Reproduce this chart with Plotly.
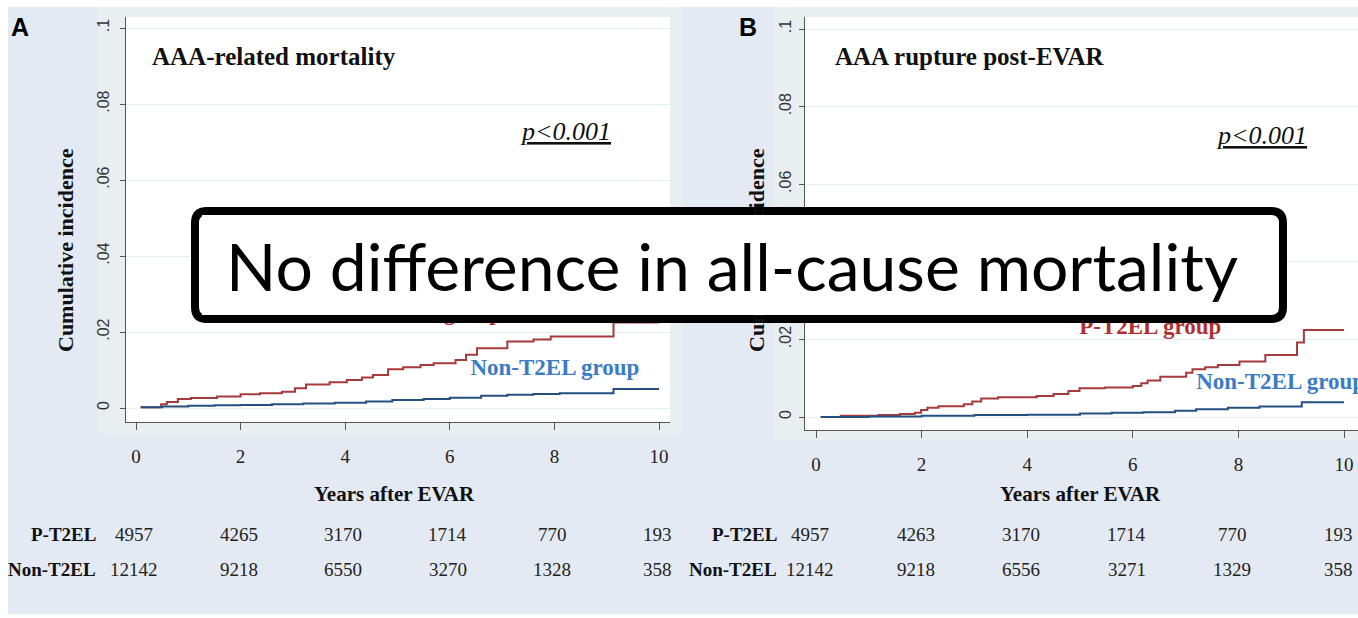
import plotly.graph_objects as go

W, H = 1358, 618

# ---- data -------------------------------------------------------------
years_ticks = [0, 2, 4, 6, 8, 10]
y_ticks = [0, 0.02, 0.04, 0.06, 0.08, 0.1]
y_ticktext = ["0", ".02", ".04", ".06", ".08", ".1"]

# Panel A: AAA-related mortality (cumulative incidence, step curves)
a_pt2el_t = [0.09, 0.48, 0.59, 0.80, 1.05, 1.55, 2.00, 2.37, 2.79, 3.04, 3.25, 3.70, 4.03,
             4.32, 4.53, 4.82, 5.11, 5.44, 5.69, 6.11, 6.31, 6.52, 7.10, 7.60, 7.93, 9.13, 10.0]
a_pt2el_v = [0.0002, 0.0010, 0.0016, 0.0024, 0.0026, 0.0030, 0.0036, 0.0039, 0.0043, 0.0052,
             0.0062, 0.0068, 0.0074, 0.0080, 0.0087, 0.0102, 0.0107, 0.0113, 0.0118, 0.0126,
             0.0140, 0.0157, 0.0175, 0.0180, 0.0188, 0.0225, 0.0225]
a_non_t = [0.09, 0.5, 1.0, 1.5, 2.0, 2.6, 3.2, 3.8, 4.4, 4.9, 5.5, 6.0, 6.6, 7.1, 7.6, 8.1, 9.13, 10.0]
a_non_v = [0.0002, 0.0004, 0.0006, 0.0007, 0.0008, 0.0010, 0.0012, 0.0014, 0.0017, 0.0021,
           0.0024, 0.0027, 0.0032, 0.0035, 0.0037, 0.0039, 0.0050, 0.0050]

# Panel B: AAA rupture post-EVAR
b_pt2el_t = [0.09, 0.47, 1.18, 1.59, 1.87, 1.99, 2.11, 2.32, 2.80, 2.96, 3.13, 3.45, 4.18, 4.50,
             4.78, 4.99, 5.47, 6.00, 6.16, 6.28, 6.52, 7.01, 7.13, 7.37, 7.61, 8.02, 8.51, 9.11,
             9.24, 10.0]
b_pt2el_v = [0.0, 0.0003, 0.0005, 0.0008, 0.0011, 0.0018, 0.0024, 0.0028, 0.0033, 0.0040, 0.0048,
             0.0051, 0.0054, 0.0059, 0.0067, 0.0074, 0.0076, 0.0080, 0.0087, 0.0094, 0.0104,
             0.0114, 0.0123, 0.0128, 0.0134, 0.0143, 0.0160, 0.0192, 0.0224, 0.0224]
b_non_t = [0.09, 1.0, 2.0, 3.0, 4.0, 5.0, 5.6, 6.2, 6.8, 7.2, 7.8, 8.4, 9.2, 10.0]
b_non_v = [0.0, 0.0001, 0.0003, 0.0005, 0.0006, 0.0009, 0.0011, 0.0012, 0.0016, 0.0020,
           0.0024, 0.0027, 0.0038, 0.0038]

# Numbers at risk
a_risk_pt2el = [4957, 4265, 3170, 1714, 770, 193]
a_risk_non = [12142, 9218, 6550, 3270, 1328, 358]
b_risk_pt2el = [4957, 4263, 3170, 1714, 770, 193]
b_risk_non = [12142, 9218, 6556, 3271, 1329, 358]

RED = "#a63a3c"
BLUE = "#24507f"
RED_TXT = "#b0302f"
BLUE_TXT = "#3c7cc6"
SERIF = "Liberation Serif"
SANS = "Liberation Sans"


def px(x):
    return x / W


def py(y):
    return 1 - y / H


fig = go.Figure()

# step curves
for t, v, col, xa, ya in [
    (a_pt2el_t, a_pt2el_v, RED, "x", "y"),
    (a_non_t, a_non_v, BLUE, "x", "y"),
    (b_pt2el_t, b_pt2el_v, RED, "x2", "y2"),
    (b_non_t, b_non_v, BLUE, "x2", "y2"),
]:
    fig.add_trace(go.Scatter(x=t, y=v, mode="lines", line=dict(color=col, width=2, shape="hv"),
                             xaxis=xa, yaxis=ya, showlegend=False, hoverinfo="skip"))

# curve labels
for x, y, txt, col, pos, xa, ya in [
    (5.64, 0.0247, "<b>P-T2EL group</b>", RED_TXT, "middle center", "x", "y"),
    (8.01, 0.0103, "<b>Non-T2EL group</b>", BLUE_TXT, "middle center", "x", "y"),
    (6.33, 0.0229, "<b>P-T2EL group</b>", RED_TXT, "middle center", "x2", "y2"),
    (7.2, 0.0086, "<b>Non-T2EL group</b>", BLUE_TXT, "middle right", "x2", "y2"),
]:
    fig.add_trace(go.Scatter(x=[x], y=[y], mode="text", text=[txt], textposition=pos,
                             textfont=dict(family=SERIF, size=23, color=col),
                             xaxis=xa, yaxis=ya, showlegend=False, hoverinfo="skip"))

# ---- backgrounds -----------------------------------------------------
shapes = []


def rect(x0, y0, x1, y1, color, layer="below"):
    shapes.append(dict(type="rect", xref="paper", yref="paper", x0=px(x0), x1=px(x1),
                       y0=py(y1), y1=py(y0), fillcolor=color, line=dict(width=0), layer=layer))


rect(8, 7, 1358, 614, "#e4eaf3")
rect(98, 7, 682, 434, "#e9eff1")
rect(773, 7, 1358, 440, "#e9eff1")
rect(126, 17, 670, 422, "#ffffff")
rect(805, 17, 1358, 430, "#ffffff")

# rounded callout box
bx0, by0, bx1, by1, r = 195, 211, 1283, 319, 12
path = (
    f"M {px(bx0 + r)},{py(by0)} L {px(bx1 - r)},{py(by0)} "
    f"Q {px(bx1)},{py(by0)} {px(bx1)},{py(by0 + r)} "
    f"L {px(bx1)},{py(by1 - r)} Q {px(bx1)},{py(by1)} {px(bx1 - r)},{py(by1)} "
    f"L {px(bx0 + r)},{py(by1)} Q {px(bx0)},{py(by1)} {px(bx0)},{py(by1 - r)} "
    f"L {px(bx0)},{py(by0 + r)} Q {px(bx0)},{py(by0)} {px(bx0 + r)},{py(by0)} Z"
)
shapes.append(dict(type="path", xref="paper", yref="paper", path=path, fillcolor="#ffffff",
                   line=dict(color="#000000", width=8), layer="above"))

# ---- axes -----------------------------------------------------------
a_ppy = 52.3   # pixels per year, panel A
b_ppy = 52.8
a_x0, b_x0 = 136, 816
a_y0, a_ppu = 408, 3800
b_y0, b_ppu = 417, 3880

xcommon = dict(tickvals=years_ticks, ticks="outside", ticklen=7, tickcolor="#555555",
               tickwidth=1.3, showline=True, linecolor="#555555", linewidth=1.3,
               showgrid=False, zeroline=False, ticklabelstandoff=10,
               tickfont=dict(family=SERIF, size=19, color="#222222"))
ycommon = dict(tickvals=y_ticks, ticktext=y_ticktext, tickangle=-90, ticks="outside",
               ticklen=5, tickcolor="#555555", tickwidth=1.3, showline=True,
               linecolor="#555555", linewidth=1.3, showgrid=True, gridcolor="#e4edf0",
               gridwidth=1, zeroline=False,
               tickfont=dict(family=SANS, size=16, color="#333333"))

layout = dict(
    width=W, height=H, margin=dict(l=0, r=0, t=0, b=0),
    paper_bgcolor="#ffffff", plot_bgcolor="rgba(0,0,0,0)",
    xaxis=dict(domain=[px(126), px(670)], anchor="y",
               range=[(126 - a_x0) / a_ppy, (670 - a_x0) / a_ppy], **xcommon),
    yaxis=dict(domain=[py(422), py(17)], anchor="x",
               range=[(a_y0 - 422) / a_ppu, (a_y0 - 17) / a_ppu], ticklabelstandoff=4, **ycommon),
    xaxis2=dict(domain=[px(805), 1.0], anchor="y2",
                range=[(805 - b_x0) / b_ppy, (W - b_x0) / b_ppy], **xcommon),
    yaxis2=dict(domain=[py(430), py(17)], anchor="x2",
                range=[(b_y0 - 430) / b_ppu, (b_y0 - 17) / b_ppu], ticklabelstandoff=1, **ycommon),
    shapes=shapes,
    hovermode=False,
)
fig.update_layout(**layout)

# ---- text -----------------------------------------------------------
ann = []


def text(x, y, s, size, family=SERIF, color="#111111", xanchor="center", angle=0, **kw):
    ann.append(dict(x=x, y=y, xref="paper", yref="paper", text=s, showarrow=False,
                    xanchor=xanchor, yanchor="middle", textangle=angle,
                    font=dict(family=family, size=size, color=color), **kw))


text(px(20), py(27), "<b>A</b>", 25, family=SANS, color="#000000")
text(px(748), py(27), "<b>B</b>", 25, family=SANS, color="#000000")

text(px(150), py(57), "<b>AAA-related mortality</b>", 25, xanchor="left")
text(px(833), py(57), "<b>AAA rupture post-EVAR</b>", 25, xanchor="left")

text(px(565), py(131), "<i><u>p&lt;0.001</u></i>", 26)
text(px(1261), py(135), "<i><u>p&lt;0.001</u></i>", 26)

text(px(394), py(494), "<b>Years after EVAR</b>", 21)
text(px(1080), py(494), "<b>Years after EVAR</b>", 21)

text(px(66), py(250), "<b>Cumulative incidence</b>", 22, angle=-90)
text(px(757), py(250), "<b>Cumulative incidence</b>", 22, angle=-90)

# numbers-at-risk table
for lab_x, row_y, lab in [(98, 534, "P-T2EL"), (98, 569, "Non-T2EL"),
                          (779, 534, "P-T2EL"), (779, 569, "Non-T2EL")]:
    text(px(lab_x), py(row_y), f"<b>{lab}</b>", 19, xanchor="right")

for xref, row_y, vals, shift in [("x", 534, a_risk_pt2el, -2), ("x", 569, a_risk_non, -2),
                                 ("x2", 534, b_risk_pt2el, -6), ("x2", 569, b_risk_non, -6)]:
    for t, n in zip(years_ticks, vals):
        ann.append(dict(x=t, y=py(row_y), xref=xref, yref="paper", text=str(n),
                        showarrow=False, xanchor="center", yanchor="middle", xshift=shift,
                        font=dict(family=SERIF, size=19, color="#222222")))

# callout text (drawn last so it sits on top)
ann.append(dict(x=px(732), y=py(265), xref="paper", yref="paper",
                text="No difference in all-cause mortality", showarrow=False,
                xanchor="center", yanchor="middle", width=1060, height=100,
                bgcolor="#ffffff", borderpad=0, borderwidth=0,
                font=dict(family="Lato", size=66, color="#000000")))

fig.update_layout(annotations=ann)

fig.write_html("out.html")
